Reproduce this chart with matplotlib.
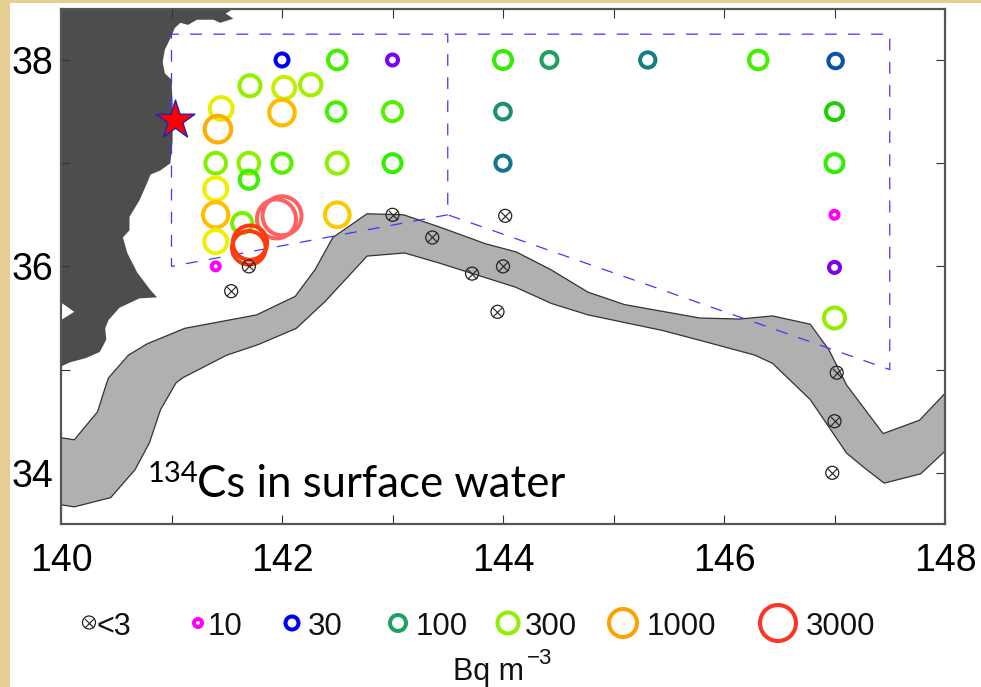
import numpy as np
import matplotlib
matplotlib.use("Agg")
import matplotlib.pyplot as plt
from matplotlib.colors import LinearSegmentedColormap
from matplotlib.patches import Rectangle

plt.rcParams['font.family'] = ['Liberation Sans', 'DejaVu Sans']

# stations with a detected 134Cs value (Bq m-3)
lon = [142.0, 142.5, 143.0, 141.71, 142.02, 142.26, 141.45, 142.0, 142.49, 143.0,
       141.42, 141.4, 141.7, 142.0, 142.5, 143.0, 141.7, 141.4, 141.4, 142.5,
       141.64, 141.4, 141.95, 142.0, 141.71, 141.7, 141.4,
       144.0, 144.42, 145.31, 146.31, 147.01, 144.0, 144.0, 147.0, 147.0,
       147.0, 147.0, 147.0]
lat = [38.0, 38.0, 38.0, 37.75, 37.73, 37.76, 37.53, 37.49, 37.5, 37.5,
       37.33, 37.0, 37.0, 37.0, 37.0, 37.0, 36.84, 36.75, 36.5, 36.5,
       36.42, 36.24, 36.46, 36.49, 36.23, 36.18, 36.0,
       38.0, 38.0, 38.0, 38.0, 37.99, 37.5, 37.0, 37.5, 37.0,
       36.5, 35.99, 35.5]
cs134 = [30, 190, 20, 300, 370, 320, 430, 750, 190, 210,
         850, 280, 290, 210, 300, 170, 180, 450, 720, 650,
         260, 450, 4500, 4500, 2700, 2600, 10,
         170, 100, 70, 190, 50, 85, 65, 130, 170,
         10, 20, 300]

# stations below detection
nd_lon = [143.0, 143.36, 143.72, 144.0, 143.95, 144.02, 141.7, 141.54, 147.02, 147.0, 146.98]
nd_lat = [36.5, 36.28, 35.93, 36.0, 35.56, 36.49, 36.0, 35.76, 34.97, 34.5, 34.0]

# Kuroshio band, north edge then south edge
band_n_lon = [140.0, 140.12, 140.33, 140.41, 140.43, 140.61, 140.78, 141.12, 141.77, 142.12,
              142.30, 142.46, 142.77, 143.10, 143.43, 143.84, 144.12, 144.43, 144.77, 145.10,
              145.78, 146.14, 146.44, 146.78, 146.95, 147.11, 147.44, 147.77, 148.0]
band_n_lat = [34.34, 34.32, 34.59, 34.86, 34.92, 35.14, 35.25, 35.40, 35.53, 35.71,
              35.97, 36.28, 36.51, 36.50, 36.38, 36.22, 36.14, 35.97, 35.75, 35.63,
              35.50, 35.49, 35.52, 35.44, 35.19, 34.85, 34.38, 34.51, 34.77]
band_s_lon = [148.0, 147.78, 147.45, 147.28, 147.11, 146.78, 146.44, 146.28, 145.76, 145.44,
              144.77, 144.44, 144.11, 143.43, 143.11, 142.77, 142.39, 142.13, 141.78, 141.50,
              141.10, 141.04, 140.90, 140.80, 140.67, 140.45, 140.12, 140.0]
band_s_lat = [34.21, 33.99, 33.90, 34.04, 34.19, 34.71, 35.06, 35.14, 35.29, 35.38,
              35.53, 35.64, 35.80, 36.03, 36.13, 36.10, 35.66, 35.40, 35.24, 35.14,
              34.92, 34.87, 34.61, 34.29, 34.03, 33.76, 33.67, 33.69]

# Japan coast
land_lon = [140.0, 141.47, 141.54, 141.49, 141.56, 141.44, 141.38, 141.23, 141.15, 141.08,
            141.03, 140.99, 140.94, 140.92, 140.94, 141.0, 141.01, 141.01, 140.99, 140.90,
            140.81, 140.78, 140.71, 140.62, 140.62, 140.56, 140.60, 140.69, 140.81, 140.87,
            140.71, 140.53, 140.43, 140.40, 140.41, 140.35, 140.22, 140.08, 140.0, 140.0,
            140.12, 140.0]
land_lat = [38.5, 38.49, 38.48, 38.45, 38.40, 38.36, 38.39, 38.39, 38.34, 38.36,
            38.31, 38.21, 38.10, 37.98, 37.87, 37.81, 37.58, 37.22, 37.0, 36.93,
            36.89, 36.81, 36.64, 36.48, 36.35, 36.28, 36.13, 35.94, 35.77, 35.70,
            35.69, 35.60, 35.48, 35.40, 35.29, 35.17, 35.11, 35.07, 35.03, 35.48,
            35.56, 35.65]

# sampling area outline
box_lon = [143.5, 141.0, 141.0, 143.5, 143.5, 147.5, 147.5, 143.5]
box_lat = [36.5, 36.0, 38.25, 38.25, 36.5, 35.0, 38.25, 38.25]

star_lon = [141.03]
star_lat = [37.42]

legend_values = [10, 30, 100, 300, 1000, 3000]
legend_labels = ['10', '30', '100', '300', '1000', '3000']

# colour and ring size both follow log10 of the value
scale_v = np.array([10, 20, 30, 60, 100, 130, 170, 300, 450, 700, 1000, 2500, 3000, 4500])
scale_c = ['#ff00ff', '#8000f0', '#0000f0', '#107090', '#20a060', '#20d000', '#30f000',
           '#90f000', '#f0f000', '#ffc000', '#ffa000', '#ff4000', '#ff3020', '#ff6060']
scale_d = np.array([12, 15, 17, 19, 20, 21, 22, 25, 27, 29, 32, 37, 40, 43])
log_v = np.log10(scale_v)
nodes = (log_v - log_v[0]) / (log_v[-1] - log_v[0])
cmap = LinearSegmentedColormap.from_list('cs', list(zip(nodes, scale_c)))


def ring_color(v):
    return cmap((np.log10(v) - log_v[0]) / (log_v[-1] - log_v[0]))


def ring_area(v, lw_px=4.0):
    # outer diameter in pixels -> scatter area at the stroke centre
    d = np.interp(np.log10(v), log_v, scale_d)
    return ((d - lw_px) * 0.72) ** 2


def draw_nd(a, x, y, d_px):
    d = d_px * 0.72
    a.scatter(x, y, s=d ** 2, facecolors='none', edgecolors='#222222', linewidths=0.9, zorder=6)
    a.scatter(x, y, s=d ** 2 / 2, marker='x', color='#222222', linewidths=0.8, zorder=6)


fig = plt.figure(figsize=(9.81, 6.87), dpi=100, facecolor='#e6cd92')
fig.patches.append(Rectangle((10 / 981, 0), 971 / 981, 684 / 687, transform=fig.transFigure,
                             facecolor='white', edgecolor='none', zorder=-1))

ax = fig.add_axes([61 / 981, 1 - 524 / 687, 884 / 981, 515 / 687])
ax.set_xlim(140, 148)
ax.set_ylim(33.504, 38.494)

ax.fill(land_lon, land_lat, color='#4d4d4d', lw=0, zorder=1)
ax.fill(band_n_lon + band_s_lon, band_n_lat + band_s_lat, facecolor='#b0b0b0',
        edgecolor='#333333', lw=0.9, zorder=2)
ax.plot(box_lon, box_lat, color='#3a3aff', lw=0.9, dashes=(9.5, 9), zorder=3)

draw_nd(ax, nd_lon, nd_lat, 13)
ax.scatter(lon, lat, s=ring_area(np.array(cs134)), facecolors='none',
           edgecolors=ring_color(np.array(cs134)), linewidths=2.9, zorder=5)
ax.scatter(star_lon, star_lat, marker='*', s=860, color='red', edgecolors='#2020c0',
           linewidths=1, zorder=7)

ax.set_xticks(np.arange(140, 149))
ax.set_xticklabels(['140', '', '142', '', '144', '', '146', '', '148'])
ax.set_yticks(np.arange(34, 39))
ax.set_yticklabels(['34', '', '36', '', '38'])
ax.tick_params(direction='in', length=6.5, width=0.8, color='#333333', top=True, right=True,
               labelsize=27, pad=5.5)
ax.tick_params(axis='x', pad=14)
for s in ax.spines.values():
    s.set_color('#555555')
    s.set_linewidth(1.6)

# overlay in pixel units for the legend row and the annotation
ov = fig.add_axes([0, 0, 1, 1], zorder=10)
ov.set_xlim(0, 981)
ov.set_ylim(687, 0)
ov.axis('off')

leg_x = [198, 292, 398, 508, 623, 778]
leg_tx = [208, 308, 416, 525, 647, 806]
draw_nd(ov, [89], [622.5], 13)
ov.text(97, 635, '<3', fontsize=22, color='#111111')
for x, tx, v, t in zip(leg_x, leg_tx, legend_values, legend_labels):
    ov.scatter([x], [623], s=ring_area(np.array(v)), facecolors='none',
               edgecolors=[ring_color(v)], linewidths=2.9)
    ov.text(tx, 635, t, fontsize=22.5, color='#111111')

ov.text(453, 680, 'Bq m', fontsize=22, color='#111111')
ov.text(527, 664, '\u22123', fontsize=16, color='#111111')

ov.text(148, 482, '134', fontsize=21, family='Lato', color='black')
ov.text(197, 497, 'Cs in surface water', fontsize=31.5, family='Lato', color='black')

fig.savefig('out.png', dpi=100, facecolor=fig.get_facecolor())
